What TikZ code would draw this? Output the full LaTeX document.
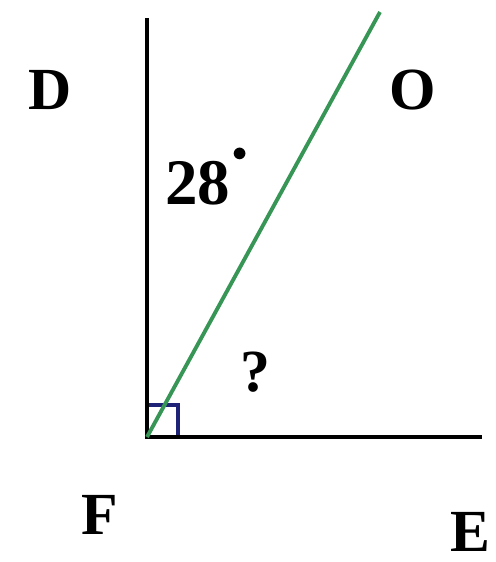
\documentclass[tikz,border=0pt]{standalone}
\usepackage{fontspec}
\setmainfont{Liberation Serif}
\usepackage{xcolor}
\usepackage{tikz}
\usetikzlibrary{positioning}
\definecolor{raygreen}{RGB}{55,150,85}
\definecolor{markblue}{RGB}{30,35,120}

\begin{document}
\begin{tikzpicture}[
    x=0.02cm, y=-0.02cm,
    side/.style={draw=black, line width=2.2pt},
    ray/.style={draw=raygreen, line width=2.2pt},
    rightmark/.style={draw=markblue, line width=2.2pt},
    lbl/.style={font=\fontsize{34}{34}\selectfont\bfseries, inner sep=0pt}
]
    \useasboundingbox (0,0) rectangle (495,562);

    % Points
    \coordinate (F) at (147,437);
    \coordinate (D) at (147,18);
    \coordinate (E) at (482,437);
    \coordinate (O) at (380,12);

    % Right angle
    \draw[rightmark] (147,405) -- (178,405) -- (178,437);

    % Sides
    \draw[side] (D) -- (F) -- (E);
    \draw[ray] (F) -- (O);

    % Labels
    \node[lbl] (Dlbl) at (50,90) {D};
    \node[lbl] (Olbl) at (413,90) {O};
    \node[lbl, font=\fontsize{37}{37}\selectfont\bfseries, anchor=base west] (ang) at (165,204)
        {28\kern1pt\raisebox{24pt}{$\scriptscriptstyle\bullet$}};
    \node[lbl] (q) at (255,372) {?};
    \node[lbl] (Flbl) at (100,515) {F};
    \node[lbl] (Elbl) at (470,532) {E};
\end{tikzpicture}
\end{document}
